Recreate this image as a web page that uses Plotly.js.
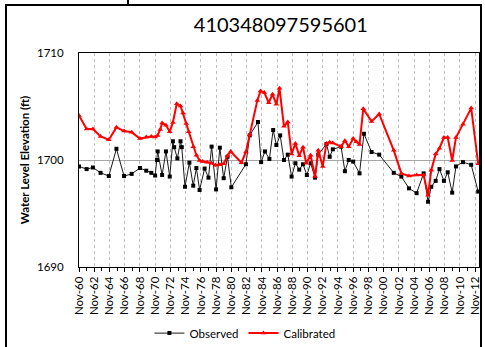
<!DOCTYPE html>
<html>
<head>
<meta charset="utf-8">
<script src="https://cdn.plot.ly/plotly-3.0.1.min.js"></script>
<style>
  html, body { margin: 0; padding: 0; background: #fff; }
  #wrap { position: relative; width: 485px; height: 347px; overflow: hidden; }
  #chart { position: absolute; left: 0; top: 0; width: 485px; height: 347px; }
  #frame { position: absolute; left: 5px; top: 4px; width: 473px; height: 350px;
           border: 2.5px solid #000; pointer-events: none; }
  #tab { position: absolute; left: 127px; top: 0; width: 2px; height: 5px; background: #000; }
</style>
</head>
<body>
<div id="wrap">
  <div id="chart"></div>
  <div id="frame"></div>
  <div id="tab"></div>
</div>
<script>
const chartTitle = '410348097595601';
const yTitle = 'Water Level Elevation (ft)';
const seriesNames = ['Observed', 'Calibrated'];
const yTicks = [1690, 1700, 1710];

const obsDates = ['1960-11','1961-11','1962-09','1963-09','1964-10','1965-10','1966-10','1967-10','1968-11','1969-09',
  '1970-05','1970-11','1971-02','1971-03','1971-10','1972-04','1972-10','1973-03','1973-05','1973-10',
  '1974-03','1974-05','1974-10','1975-05','1975-11','1976-04','1976-09','1977-05','1977-11','1978-04',
  '1978-11','1979-05','1979-11','1980-05','1980-11','1982-10','1983-04','1984-05','1984-10','1985-04',
  '1985-11','1986-05','1986-10','1987-04','1987-10','1988-04','1988-10','1989-04','1989-10','1990-04',
  '1990-10','1991-04','1991-11','1992-04','1993-05','1993-10','1994-03','1995-04','1995-10','1996-04',
  '1996-11','1997-09','1998-04','1999-04','2000-04','2002-03','2003-03','2004-03','2005-03','2006-02',
  '2006-09','2007-02','2007-09','2008-03','2008-10','2009-04','2009-11','2010-05','2011-04','2012-05',
  '2013-04'];
const obsValues = [1699.4,1699.15,1699.3,1698.8,1698.5,1701.05,1698.5,1698.7,1699.25,1699.0,
  1698.8,1698.55,1700.0,1700.8,1698.6,1700.8,1698.45,1701.75,1701.2,1700.15,
  1701.75,1701.2,1697.5,1699.75,1697.6,1699.25,1697.2,1699.2,1698.35,1701.25,
  1697.25,1701.15,1698.3,1700.3,1697.45,1699.6,1702.3,1703.55,1699.8,1700.8,
  1700.1,1702.8,1701.4,1702.3,1700.0,1700.5,1698.45,1699.7,1699.1,1699.6,
  1698.6,1699.7,1698.35,1700.5,1701.5,1700.3,1701.0,1701.25,1698.95,1700.0,
  1699.85,1698.75,1702.45,1700.75,1700.5,1698.8,1698.45,1697.35,1696.9,1698.75,
  1696.1,1697.5,1698.05,1699.15,1698.05,1698.85,1696.95,1699.4,1699.8,1699.55,
  1697.05];

const calDates = ['1960-11','1961-11','1962-09','1963-09','1964-10','1965-10','1966-10','1967-10','1968-11','1969-09',
  '1970-05','1970-11','1971-03','1971-07','1971-10','1972-04','1972-10','1973-03','1973-09','1974-03',
  '1974-07','1974-12','1975-04','1975-11','1976-04','1976-09','1977-02','1977-09','1978-04','1978-10',
  '1979-05','1979-11','1980-05','1980-10','1982-03','1982-10','1983-04','1984-04','1984-09','1985-03',
  '1985-10','1986-04','1986-10','1987-03','1987-10','1988-04','1988-10','1989-04','1989-10','1990-04',
  '1990-09','1991-04','1991-11','1992-04','1992-11','1993-05','1993-10','1994-03','1995-04','1995-10',
  '1996-04','1996-11','1997-04','1997-09','1998-03','1999-04','2000-04','2002-03','2003-03','2004-03',
  '2005-03','2006-02','2006-09','2007-02','2007-09','2008-03','2008-10','2009-04','2009-11','2010-05',
  '2011-04','2012-05','2013-04'];
const calValues = [1704.15,1702.9,1702.9,1702.2,1701.9,1703.05,1702.7,1702.6,1702.0,1702.15,
  1702.2,1702.15,1702.3,1702.85,1703.45,1703.25,1702.65,1703.5,1705.25,1705.05,
  1704.4,1703.4,1702.65,1701.25,1700.45,1699.95,1699.85,1699.8,1699.7,1699.5,
  1699.55,1699.65,1700.4,1700.8,1699.75,1700.75,1702.35,1705.55,1706.45,1706.3,
  1705.35,1706.15,1705.2,1706.7,1703.15,1703.55,1700.55,1701.55,1700.4,1701.2,
  1699.7,1700.45,1698.45,1700.9,1699.4,1701.55,1701.65,1701.6,1701.25,1701.8,
  1701.25,1702.0,1701.7,1701.45,1704.8,1703.6,1704.3,1700.9,1698.75,1698.5,
  1698.6,1698.6,1696.7,1699.05,1700.55,1701.1,1702.1,1702.1,1699.95,1702.1,
  1703.35,1704.85,1699.65];

const FONT = 'Lato, "Open Sans", sans-serif';

const traces = [
  { x: obsDates, y: obsValues, name: seriesNames[0], type: 'scatter', mode: 'lines+markers',
    line: { color: '#1a1a1a', width: 1 },
    marker: { symbol: 'square', size: 4, color: '#000000' } },
  { x: calDates, y: calValues, name: seriesNames[1], type: 'scatter', mode: 'lines+markers',
    line: { color: '#ff0000', width: 2 },
    marker: { symbol: 'triangle-up', size: 5, color: '#ff0000' } }
];

const layout = {
  width: 485, height: 347,
  margin: { l: 79, r: 6, t: 53, b: 80 },
  paper_bgcolor: '#ffffff', plot_bgcolor: '#ffffff',
  font: { family: FONT, size: 11.5, color: '#000' },
  title: { text: chartTitle, font: { family: FONT, size: 20, color: '#000' },
           x: 0.579, xref: 'container', xanchor: 'center', y: 0.928, yref: 'container', yanchor: 'middle' },
  showlegend: true,
  legend: { orientation: 'h', x: 0.505, xref: 'container', xanchor: 'center',
            y: 0.04, yref: 'container', yanchor: 'middle',
            font: { family: FONT, size: 11.5, color: '#000' }, itemwidth: 30, bgcolor: 'rgba(0,0,0,0)' },
  xaxis: {
    type: 'date', range: ['1960-11-01', '2013-05-10'],
    tick0: '1960-11-01', dtick: 'M24', tickformat: '%b-%y', tickangle: -90,
    showgrid: true, gridcolor: '#bdbdbd', griddash: '3px,3px', gridwidth: 1,
    ticks: 'outside', ticklen: 4, tickcolor: '#000', tickwidth: 1,
    minor: { dtick: 'M12', tick0: '1960-11-01', ticks: 'outside', ticklen: 3, tickcolor: '#000', showgrid: false },
    showline: true, linecolor: '#000', linewidth: 1, mirror: true,
    tickfont: { family: FONT, size: 11.5, color: '#000' }, zeroline: false
  },
  yaxis: {
    range: [1690, 1710], tickvals: yTicks, ticktext: yTicks.map(String),
    showgrid: true, gridcolor: '#a6a6a6', gridwidth: 1,
    ticks: '', ticklabelstandoff: 12,
    showline: true, linecolor: '#000', linewidth: 1, mirror: true, zeroline: false,
    tickfont: { family: FONT, size: 11.5, color: '#000' },
    title: { text: yTitle, font: { family: FONT, size: 11.5, color: '#000', weight: 'bold' }, standoff: 4 }
  }
};

Plotly.newPlot('chart', traces, layout, { staticPlot: true, displayModeBar: false });
</script>
</body>
</html>
